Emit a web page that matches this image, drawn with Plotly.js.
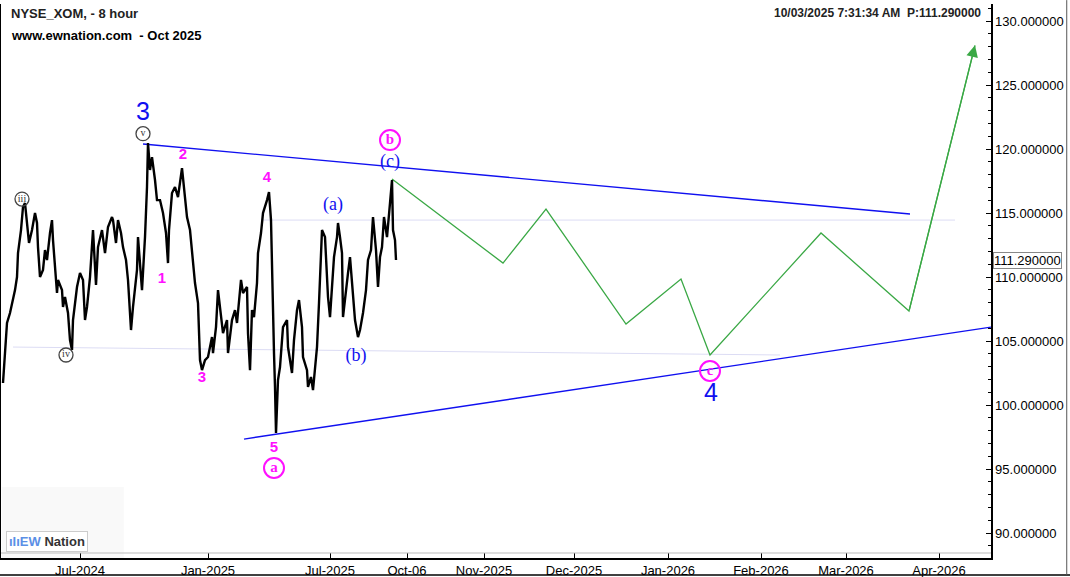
<!DOCTYPE html>
<html>
<head>
<meta charset="utf-8">
<script src="https://cdn.plot.ly/plotly-3.0.1.min.js"></script>
<style>
html,body{margin:0;padding:0;background:#fff;}
#chart{width:1070px;height:577px;}
</style>
</head>
<body>
<div id="chart"></div>
<script>
// ---- axis ticks (bar index units) ----
const tickPos = [80, 208, 330, 407, 484, 574, 668, 761, 846, 939];
const tickLabels = ['Jul-2024','Jan-2025','Jul-2025','Oct-06','Nov-2025','Dec-2025','Jan-2026','Feb-2026','Mar-2026','Apr-2026'];

// ---- XOM 8-hour price path (bar index, price) ----
const priceBar = [3,5,7,10,13,15,17,18,21,23,25,27,29,32,35,37,38,40,43,45,47,50,52,53,55,57,58,62,63,65,68,70,72,73,77,80,83,85,87,90,93,95,96,98,102,105,108,112,113,116,118,121,123,126,128,131,133,137,138,142,145,147,148,150,152,155,157,160,163,166,168,169,172,175,178,182,185,187,190,192,195,198,200,202,205,208,212,213,216,218,221,223,227,228,232,235,237,241,243,247,248,250,252,254,257,258,261,263,267,269,271,272,274,275,276,278,280,283,287,288,290,292,294,297,299,302,303,307,308,311,313,317,319,321,322,325,327,328,330,332,334,337,338,340,342,343,345,348,350,352,353,355,358,360,363,366,368,371,373,376,378,380,382,384,387,388,390,392,393,395,396];
const priceClose = [101.72,104.30,106.41,107.19,108.20,108.98,110.00,111.87,113.67,115.47,115.78,114.45,112.66,113.67,115.00,114.22,112.34,110.00,110.55,112.11,111.33,113.44,114.45,112.89,110.78,108.75,109.77,108.98,107.66,108.44,107.19,105.08,104.30,106.64,109.22,110.31,109.77,106.64,107.66,110.00,113.67,111.33,109.38,112.34,113.67,111.87,113.91,114.69,114.45,112.66,114.45,113.44,112.34,111.33,109.77,105.86,107.66,110.55,113.12,108.98,113.12,117.03,120.47,118.36,119.37,117.58,116.01,116.01,115.00,113.44,111.09,113.67,116.56,117.03,116.25,118.51,116.01,114.69,113.67,111.87,109.53,107.97,103.51,102.73,103.51,103.75,105.31,104.06,106.09,108.98,107.19,105.62,106.64,104.06,106.64,107.42,106.41,109.77,108.75,109.22,105.62,102.73,107.42,106.87,109.53,111.87,113.44,115.00,116.01,116.64,114.45,110.00,104.06,101.41,97.81,101.95,102.97,106.09,106.64,104.53,103.51,102.50,105.08,107.42,108.20,106.09,103.75,102.73,101.41,102.19,101.17,104.53,107.97,111.09,113.67,113.12,109.77,108.44,106.87,109.22,111.56,113.12,114.22,113.12,111.87,106.87,108.44,110.31,111.56,109.53,107.97,106.64,105.31,105.86,107.19,108.98,111.33,112.11,114.69,112.11,109.22,111.56,112.34,114.69,113.12,114.22,115.78,117.58,113.67,112.89,111.33];

// ---- projected wave path ----
const projBar = [392, 503, 546, 626, 681, 710, 821, 909, 975];
const projPrice = [117.66, 111.09, 115.31, 106.33, 109.84, 103.91, 113.44, 107.34, 128.10];

// ---- triangle trendlines ----
const upperBar = [143, 910];
const upperPrice = [120.39, 114.92];
const lowerBar = [244, 991];
const lowerPrice = [97.34, 106.09];

// ---- faint horizontal levels ----
const levelHiBar = [263, 955];
const levelHiPrice = [114.45, 114.45];
const levelLoBar = [13, 780];
const levelLoPrice = [104.53, 103.91];

// ---- wave labels ----
const magentaText = ['1', '2', '3', '4', '5'];
const magentaBar = [162, 183, 202, 267, 274];
const magentaPrice = [109.84, 119.53, 102.11, 117.73, 96.64];

const blueParenText = ['(a)', '(b)', '(c)'];
const blueParenBar = [333, 356, 390];
const blueParenPrice = [115.55, 103.83, 118.98];

const blueBigText = ['3', '4'];
const blueBigBar = [143, 711];
const blueBigPrice = [122.75, 100.78];

const circMagText = ['a', 'b', 'c'];
const circMagBar = [274, 390, 710];
const circMagPrice = [95.08, 120.70, 102.66];

const circGrayText = ['iii', 'iv', 'v'];
const circGrayBar = [22, 66, 143];
const circGrayPrice = [116.09, 103.91, 121.20];

const lastPrice = 111.29;

const ARIAL = 'Arial, "Liberation Sans", sans-serif';
const TIMES = '"Times New Roman", "Liberation Serif", serif';
const BLUE = '#1010f0';
const MAG = '#ff10ff';
const GREEN = '#3aa845';

const traces = [
  {x: levelHiBar, y: levelHiPrice, mode: 'lines', line: {color: '#dcdcf4', width: 1}, hoverinfo: 'skip'},
  {x: levelLoBar, y: levelLoPrice, mode: 'lines', line: {color: '#dcdcf4', width: 1}, hoverinfo: 'skip'},
  {x: upperBar, y: upperPrice, mode: 'lines', line: {color: BLUE, width: 1.4}, hoverinfo: 'skip'},
  {x: lowerBar, y: lowerPrice, mode: 'lines', line: {color: BLUE, width: 1.4}, hoverinfo: 'skip'},
  {x: projBar, y: projPrice, mode: 'lines', line: {color: GREEN, width: 1.3}, hoverinfo: 'skip'},
  {x: priceBar, y: priceClose, mode: 'lines', line: {color: '#000', width: 2.4}, hoverinfo: 'skip'},
  {x: magentaBar, y: magentaPrice, mode: 'text', text: magentaText, textposition: 'middle center',
   textfont: {family: ARIAL, size: 15, color: MAG, weight: 'bold'}, hoverinfo: 'skip'},
  {x: blueParenBar, y: blueParenPrice, mode: 'text', text: blueParenText, textposition: 'middle center',
   textfont: {family: TIMES, size: 18, color: BLUE}, hoverinfo: 'skip'},
  {x: blueBigBar, y: blueBigPrice, mode: 'text', text: blueBigText, textposition: 'middle center',
   textfont: {family: ARIAL, size: 25, color: BLUE}, hoverinfo: 'skip'},
  {x: circMagBar, y: circMagPrice, mode: 'markers+text', text: circMagText, textposition: 'middle center',
   marker: {symbol: 'circle-open', size: 20, color: MAG, line: {width: 2, color: MAG}},
   textfont: {family: TIMES, size: 15, color: MAG, weight: 'bold'}, hoverinfo: 'skip'},
  {x: circGrayBar, y: circGrayPrice, mode: 'markers+text', text: circGrayText, textposition: 'middle center',
   marker: {symbol: 'circle-open', size: 14, color: '#444', line: {width: 1.3, color: '#444'}},
   textfont: {family: TIMES, size: 10, color: '#333'}, hoverinfo: 'skip'}
];

const layout = {
  width: 1070, height: 577,
  margin: {l: 1, r: 79, t: 4, b: 19},
  paper_bgcolor: '#fff', plot_bgcolor: '#fff',
  showlegend: false,
  xaxis: {
    range: [1, 991], showgrid: false, zeroline: false,
    tickmode: 'array', tickvals: tickPos, ticktext: tickLabels,
    ticks: 'inside', ticklen: 5, tickcolor: '#000', tickwidth: 1,
    showline: true, linecolor: '#000', linewidth: 1.5,
    tickfont: {family: ARIAL, size: 13, color: '#000'}
  },
  yaxis: {
    side: 'right', range: [88.05, 131.33], showgrid: false, zeroline: false,
    tickmode: 'linear', tick0: 90, dtick: 5,
    tickformat: '.6f',
    ticks: 'inside', ticklen: 5, tickcolor: '#000', tickwidth: 1,
    minor: {dtick: 1, ticks: 'inside', ticklen: 3, tickcolor: '#000'},
    showline: true, linecolor: '#000', linewidth: 1.5, mirror: true,
    tickfont: {family: ARIAL, size: 13, color: '#000'}
  },
  shapes: [
    {type: 'rect', xref: 'paper', yref: 'paper', x0: 0.001, x1: 0.124, y0: 0.0, y1: 0.128,
     fillcolor: '#f9f9f9', line: {width: 0}, layer: 'below'},
    {type: 'line', xref: 'paper', yref: 'paper', x0: 0, x1: 1, y0: 0.009, y1: 0.009,
     line: {color: '#bbb', width: 1}},
    {type: 'line', xref: 'paper', yref: 'paper', x0: -0.002, x1: 1.08, y0: -0.0305, y1: -0.0305,
     line: {color: '#000', width: 1.5}},
    {type: 'line', xref: 'paper', yref: 'paper', x0: 1.0765, x1: 1.0765, y0: -0.0305, y1: 1.007,
     line: {color: '#555', width: 1}}
  ],
  annotations: [
    {xref: 'paper', yref: 'paper', x: 0.008, y: 0.983, xanchor: 'left', yanchor: 'middle', showarrow: false,
     text: '<b>NYSE_XOM, - 8 hour</b>', font: {family: ARIAL, size: 13, color: '#222'}},
    {xref: 'paper', yref: 'paper', x: 0.008, y: 0.943, xanchor: 'left', yanchor: 'middle', showarrow: false,
     text: '<b>www.ewnation.com \u00a0- Oct 2025</b>', font: {family: ARIAL, size: 13, color: '#000'}},
    {xref: 'paper', yref: 'paper', x: 0.992, y: 0.984, xanchor: 'right', yanchor: 'middle', showarrow: false,
     text: '<b>10/03/2025 7:31:34 AM \u00a0P:111.290000</b>', font: {family: ARIAL, size: 12, color: '#222'}},
    {xref: 'paper', yref: 'y', x: 1, y: lastPrice, xanchor: 'left', yanchor: 'middle', showarrow: false, xshift: 2,
     text: lastPrice.toFixed(6), font: {family: ARIAL, size: 13, color: '#000'},
     bgcolor: '#fff', bordercolor: '#888', borderwidth: 1, borderpad: 0},
    {xref: 'x', yref: 'y', axref: 'x', ayref: 'y', x: projBar[projBar.length - 1], y: projPrice[projPrice.length - 1],
     ax: projBar[projBar.length - 2], ay: projPrice[projPrice.length - 2], showarrow: true,
     arrowhead: 2, arrowsize: 1.8, arrowwidth: 1.3, arrowcolor: GREEN, standoff: 0, text: ''},
    {xref: 'paper', yref: 'paper', x: 0.005, y: 0.03, xanchor: 'left', yanchor: 'middle', showarrow: false,
     text: '<b><span style="color:#5b8fe6">ıIıEW</span> <span style="color:#333">Nation</span></b>',
     font: {family: ARIAL, size: 13}, bgcolor: '#fff', bordercolor: '#ccc', borderwidth: 1, borderpad: 2}
  ]
};

Plotly.newPlot('chart', traces, layout, {displayModeBar: false, staticPlot: true});
</script>
</body>
</html>
